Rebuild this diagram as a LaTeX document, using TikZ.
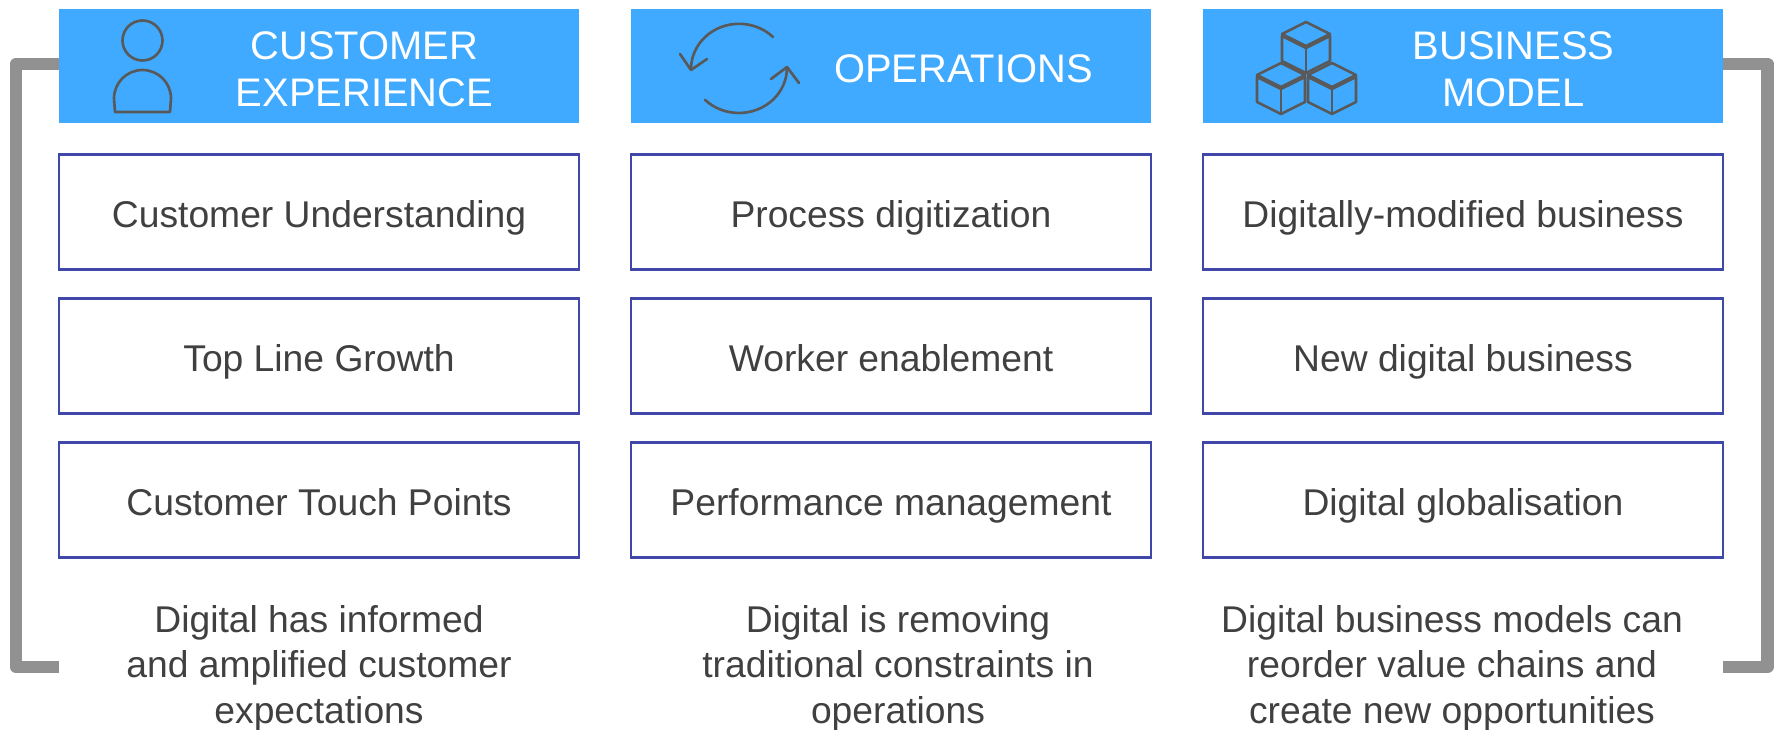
\documentclass[tikz,border=0pt]{standalone}
\usepackage{fontspec}
\setmainfont{Liberation Sans}
\usetikzlibrary{positioning,calc}
\definecolor{headblue}{HTML}{3FAAFF}
\definecolor{boxblue}{HTML}{3F48A8}
\definecolor{bargrey}{HTML}{919191}
\definecolor{icongrey}{HTML}{595959}
\definecolor{textgrey}{HTML}{404040}

\begin{document}
\begin{tikzpicture}[x=0.1mm, y=-0.1mm, node distance=2.65mm and 5.2mm,
    headbox/.style={rectangle, fill=headblue, minimum width=52mm, minimum height=11.45mm, outer sep=0pt},
    headtitle/.style={text=white, align=center, inner sep=0pt, font=\fontsize{11.35}{13.5}\selectfont},
    itembox/.style={rectangle, draw=boxblue, line width=0.7pt, fill=white, minimum width=52mm, minimum height=11.5mm, text height=9.4pt, text depth=0.7pt, inner sep=0pt, text=textgrey, font=\fontsize{10.6}{13}\selectfont},
    captiontext/.style={text=textgrey, align=center, inner sep=0pt, font=\fontsize{10.6}{13.05}\selectfont},
    bracketline/.style={bargrey, line width=3.5pt, line join=round},
    iconline/.style={icongrey, line width=0.75pt, line cap=round, line join=round}]

    \useasboundingbox (0,0) rectangle (1774,730);

    % headers
    \node[headbox] (custH) at (319,66.2) {};
    \node[headbox, right=of custH] (operH) {};
    \node[headbox, right=of operH] (busiH) {};

    \node[headtitle] (custT) at (364.5,69) {CUSTOMER\\EXPERIENCE};
    \node[headtitle] (operT) at (963.5,69) {OPERATIONS};
    \node[headtitle] (busiT) at (1513.5,69) {BUSINESS\\MODEL};

    % first column
    \node[itembox, below=3mm of custH] (cust1) {Customer Understanding};
    \node[itembox, below=of cust1] (cust2) {Top Line Growth};
    \node[itembox, below=of cust2] (cust3) {Customer Touch Points};
    \node[captiontext, below=4.55mm of cust3] (custC) {Digital has informed\\and amplified customer\\expectations};

    % second column
    \node[itembox, below=3mm of operH] (oper1) {Process digitization};
    \node[itembox, below=of oper1] (oper2) {Worker enablement};
    \node[itembox, below=of oper2] (oper3) {Performance management};
    \node[captiontext, below=4.55mm of oper3, xshift=0.7mm] (operC) {Digital is removing\\traditional constraints in\\operations};

    % third column
    \node[itembox, below=3mm of busiH] (busi1) {Digitally-modified business};
    \node[itembox, below=of busi1] (busi2) {New digital business};
    \node[itembox, below=of busi2] (busi3) {Digital globalisation};
    \node[captiontext, below=4.55mm of busi3, xshift=-1.1mm] (busiC) {Digital business models can\\reorder value chains and\\create new opportunities};

    % side brackets
    \coordinate (leftTop) at (custH.west |- 0,64);
    \coordinate (leftBot) at (custH.west |- 0,667);
    \coordinate (rightTop) at (busiH.east |- 0,64);
    \coordinate (rightBot) at (busiH.east |- 0,667);
    \draw[bracketline] (leftTop) -- (16,64) -- (16,667) -- (leftBot);
    \draw[bracketline] (rightTop) -- (1767.5,64) -- (1767.5,667) -- (rightBot);

    % person icon
    \draw[iconline] (142.5,40.5) circle (20);
    \draw[iconline] (115,112) -- (170,112) -- (171,98.5) arc[start angle=0, end angle=-180, radius=28.5] -- cycle;

    % cycle icon
    \draw[iconline] (773,37) arc[start angle=-45, end angle=-180, x radius=48, y radius=45];
    \draw[iconline] (680,54) -- (691,70) -- (707,59);
    \draw[iconline] (705,99.8) arc[start angle=135, end angle=0, x radius=48, y radius=45];
    \draw[iconline] (799,83) -- (787,67) -- (771,79);

    % cubes icon
    \foreach \cx/\cy in {1306/22, 1281/63, 1332/63} {
        \draw[iconline] (\cx,\cy) -- ++(24,12) -- ++(-24,12) -- ++(-24,-12) -- cycle;
        \draw[iconline] (\cx-24,\cy+14) -- ++(0,25) -- ++(24,12) -- ++(24,-12) -- ++(0,-25) -- ++(-24,12) -- cycle;
        \draw[iconline] (\cx,\cy+26) -- (\cx,\cy+51);
    }
\end{tikzpicture}
\end{document}
